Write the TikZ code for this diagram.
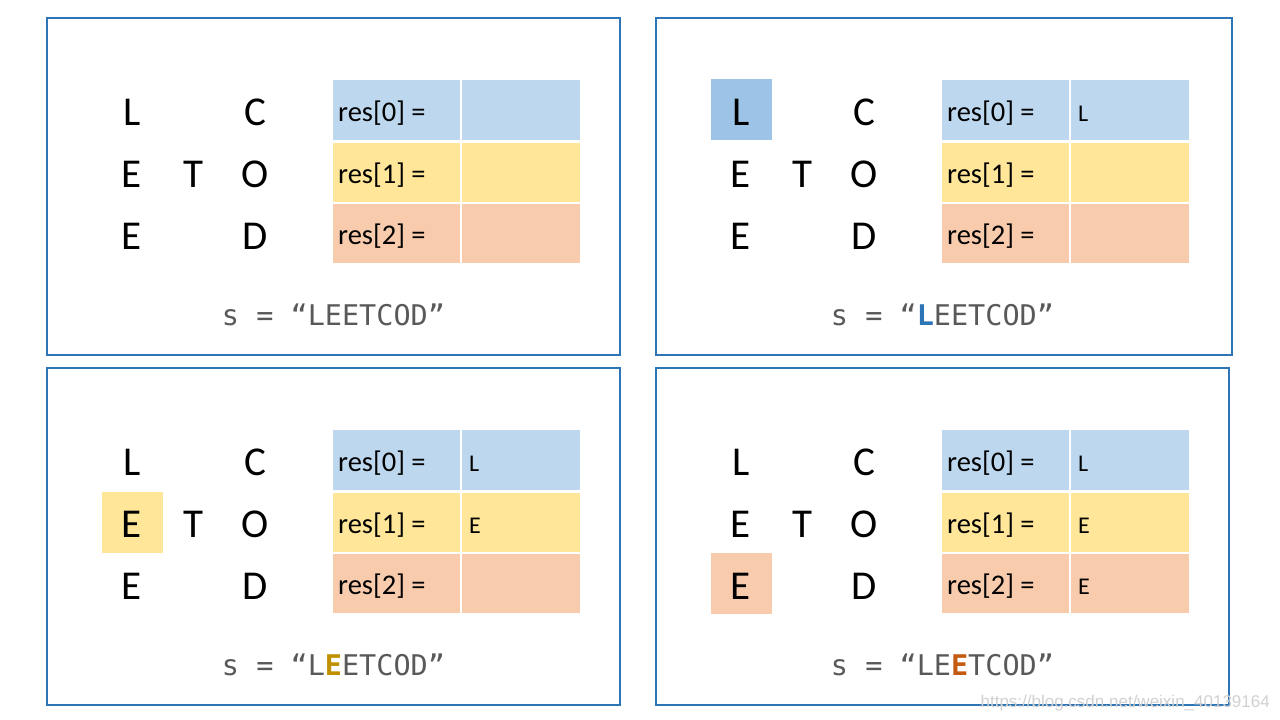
\documentclass[tikz,border=0pt]{standalone}
\usepackage{fontspec}
\setmainfont{Carlito}
\newfontfamily\monof{DejaVu Sans Mono}
\newfontfamily\wmfont{Liberation Sans}
\definecolor{frameblue}{HTML}{2E75B6}
\definecolor{cellblue}{HTML}{BDD7EE}
\definecolor{cellyellow}{HTML}{FFE699}
\definecolor{cellorange}{HTML}{F8CBAD}
\definecolor{hiblue}{HTML}{9DC3E6}
\definecolor{strgray}{HTML}{595959}
\definecolor{hlblue}{HTML}{2E75B6}
\definecolor{hlgold}{HTML}{BF9000}
\definecolor{hlorange}{HTML}{C55A11}
\tikzset{
  panelbox/.style={draw=frameblue, line width=1.1pt},
  gl/.style={font=\fontsize{41}{41}\selectfont, inner sep=0pt, anchor=base},
  celltxt/.style={font=\fontsize{28.5}{28.5}\selectfont, inner sep=0pt, anchor=base west},
  valtxt/.style={font=\fontsize{24}{24}\selectfont, inner sep=0pt, anchor=base west},
  strtxt/.style={font=\monof\fontsize{28.5}{28.5}\selectfont, text=strgray, inner sep=0pt, anchor=base},
  hibox/.style={inner sep=0pt, minimum width=61pt, minimum height=61pt, anchor=north west},
}
\newcommand\mkpanel[6]{%
  \draw[panelbox] (0,0) rectangle (#2,337);
  \fill[cellblue] (286,62) rectangle (533,122);
  \fill[cellyellow] (286,124.5) rectangle (533,184);
  \fill[cellorange] (286,185.5) rectangle (533,245);
  \draw[white, line width=1.5pt] (414,62) -- (414,245);
  \node[gl] (#1-r0c0) at (85,107) {L};
  \node[gl] (#1-r0c2) at (208,107) {C};
  \node[gl] (#1-r1c0) at (85,169) {E};
  \node[gl] (#1-r1c1) at (146,169) {T};
  \node[gl] (#1-r1c2) at (208,169) {O};
  \node[gl] (#1-r2c0) at (85,231) {E};
  \node[gl] (#1-r2c2) at (208,231) {D};
  \node[celltxt] (#1-lab0) at (291,103) {res[0] =};
  \node[celltxt] (#1-lab1) at (291,165) {res[1] =};
  \node[celltxt] (#1-lab2) at (291,226) {res[2] =};
  \node[valtxt] (#1-val0) at (422,103) {#3};
  \node[valtxt] (#1-val1) at (422,165) {#4};
  \node[valtxt] (#1-val2) at (422,226) {#5};
  \node[strtxt] (#1-str) at (286.5,307) {#6};
}
\begin{document}
\begin{tikzpicture}[x=1pt,y=-1pt]
\useasboundingbox (0,0) rectangle (1280,720);
\fill[white] (0,0) rectangle (1280,720);
% top left
\begin{scope}[shift={(47,18)}]
  \mkpanel{tl}{573}{}{}{}{s = “LEETCOD”}
\end{scope}
% top right
\begin{scope}[shift={(656,18)}]
  \node[hibox, fill=hiblue] (tr-hl) at (55,61) {};
  \mkpanel{tr}{576}{L}{}{}{s = “\textcolor{hlblue}{\bfseries L}EETCOD”}
\end{scope}
% bottom left
\begin{scope}[shift={(47,368)}]
  \node[hibox, fill=cellyellow] (bl-hl) at (55,124) {};
  \mkpanel{bl}{573}{L}{E}{}{s = “L\textcolor{hlgold}{\bfseries E}ETCOD”}
\end{scope}
% bottom right
\begin{scope}[shift={(656,368)}]
  \node[hibox, fill=cellorange] (br-hl) at (55,185) {};
  \mkpanel{br}{573}{L}{E}{E}{s = “LE\textcolor{hlorange}{\bfseries E}TCOD”}
\end{scope}
\node[font=\wmfont\fontsize{17}{17}\selectfont, text=black!18, anchor=base east, inner sep=0pt] (wm) at (1270,707) {https://blog.csdn.net/weixin\_40139164};
\end{tikzpicture}
\end{document}
